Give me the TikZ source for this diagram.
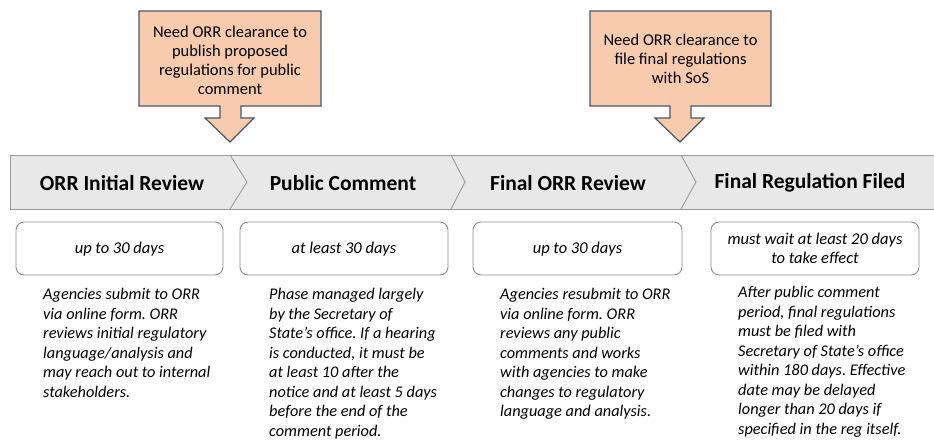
\documentclass[tikz,border=0pt]{standalone}
\usepackage{fontspec}
\setmainfont{Carlito}
\frenchspacing
\begin{document}
\begin{tikzpicture}[x=1pt,y=-1pt,
  callout/.style={fill=peach,draw=slate,line width=1.2pt,line join=miter},
  band/.style={fill=bandfill,draw=bandline,line width=0.9pt},
  sep/.style={draw=bandline,line width=0.9pt},
  head/.style={font=\fontsize{21.5}{24}\selectfont\bfseries,inner sep=0pt},
  dur/.style={draw=boxline,line width=0.9pt,rounded corners=8pt,fill=white},
  durtext/.style={font=\fontsize{16.5}{19.5}\selectfont\itshape,align=center,inner sep=0pt},
  desc/.style={font=\fontsize{16.3}{19.5}\selectfont\itshape,align=left,anchor=north west,inner sep=0pt},
  calltext/.style={font=\fontsize{16.5}{19}\selectfont,align=center,inner sep=0pt}]
\definecolor{peach}{HTML}{F8CBAD}
\definecolor{slate}{HTML}{4A5568}
\definecolor{bandfill}{HTML}{E8E8E8}
\definecolor{bandline}{HTML}{9A9A9A}
\definecolor{boxline}{HTML}{8C8C8C}
\useasboundingbox (0,0) rectangle (934,440);
\fill[white] (0,0) rectangle (934,440);
% callouts
\draw[callout] (139,11) -- (321,11) -- (321,106) -- (241,106) -- (241,118) -- (254,118)
  -- (230,142) -- (205,118) -- (220,118) -- (220,106) -- (139,106) -- cycle;
\draw[callout] (590,11) -- (771,11) -- (771,106) -- (691,106) -- (691,118) -- (704,118)
  -- (680,142) -- (655,118) -- (670,118) -- (670,106) -- (590,106) -- cycle;
\node[calltext] (c1) at (230,60) {Need ORR clearance to\\publish proposed\\regulations for public\\comment};
\node[calltext] (c2) at (680.5,59) {Need ORR clearance to\\file final regulations\\with SoS};
% band
\draw[band] (10,155) rectangle (936,209);
\draw[sep] (230,155) -- (247,182) -- (230,209);
\draw[sep] (451,155) -- (465,182) -- (451,209);
\draw[sep] (681,155) -- (696,182) -- (681,209);
\node[head] (h1) at (122,183) {ORR Initial Review};
\node[head] (h2) at (343,183) {Public Comment};
\node[head] (h3) at (568,183) {Final ORR Review};
\node[head] (h4) at (810,183) {Final Regulation Filed};
% duration boxes
\draw[dur] (16,222) rectangle (223,275);
\draw[dur] (240,222) rectangle (448,275);
\draw[dur] (473,222) rectangle (682,275);
\draw[dur] (711,222) rectangle (919,275);
\node[durtext] (d1) at (119.5,249) {up to 30 days};
\node[durtext] (d2) at (344,249) {at least 30 days};
\node[durtext] (d3) at (577.5,249) {up to 30 days};
\node[durtext] (d4) at (815,248.5) {must wait at least 20 days\\to take effect};
% descriptions
\node[desc] (t1) at (43,288) {Agencies submit to ORR\\via online form. ORR\\reviews initial regulatory\\language/analysis and\\may reach out to internal\\stakeholders.};
\node[desc] (t2) at (269,288) {Phase managed largely\\by the Secretary of\\State’s office. If a hearing\\is conducted, it must be\\at least 10 after the\\notice and at least 5 days\\before the end of the\\comment period.};
\node[desc] (t3) at (500,288) {Agencies resubmit to ORR\\via online form. ORR\\reviews any public\\comments and works\\with agencies to make\\changes to regulatory\\language and analysis.};
\node[desc] (t4) at (738,286) {After public comment\\period, final regulations\\must be filed with\\Secretary of State’s office\\within 180 days. Effective\\date may be delayed\\longer than 20 days if\\specified in the reg itself.};
\end{tikzpicture}
\end{document}
